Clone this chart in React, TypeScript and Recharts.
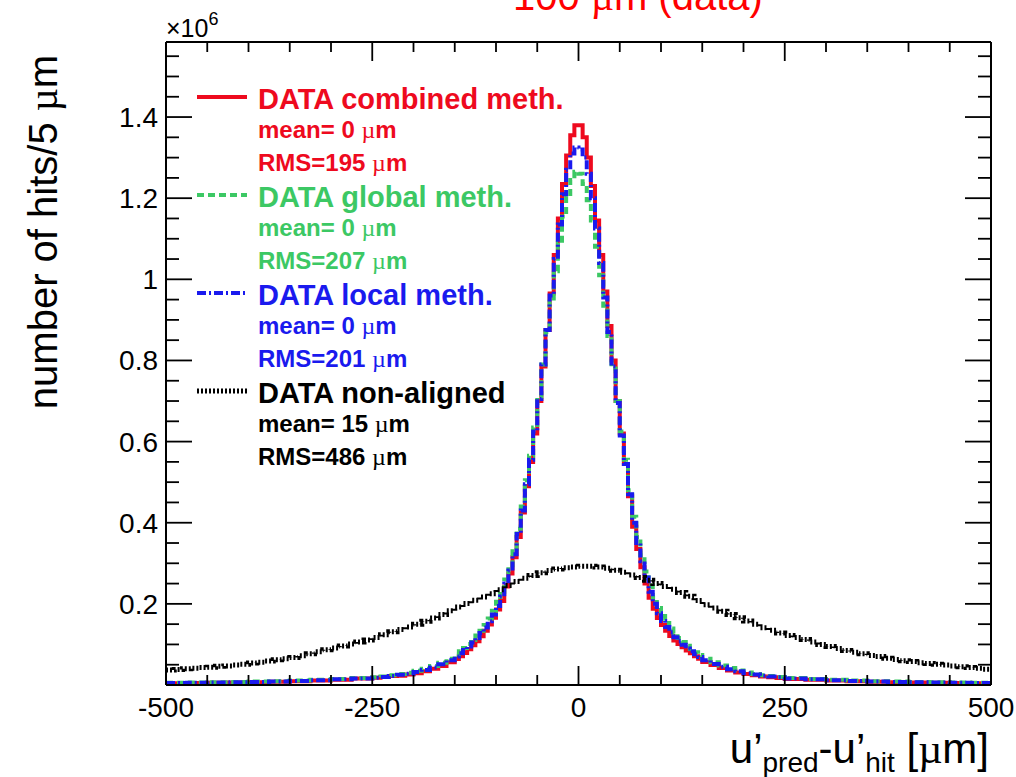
import { LineChart, Line, XAxis, YAxis } from "recharts";

const FONT = "'Liberation Sans', Arial, Helvetica, sans-serif";
const SERIF = "'Liberation Serif', 'DejaVu Serif', serif";
const RED = "#ee0a1e";
const GREEN = "#3cc864";
const BLUE = "#1a1aee";
const BLACK = "#000000";

// bin edges (µm) for the three aligned histograms; 5 µm bins in the core, wider in the tails
const binEdges = [
  -500, -475, -450, -425, -400, -375, -350, -325, -300, -275,
  -250, -240, -230, -220, -210, -200, -190, -180, -170, -160,
  -150, -145, -140, -135, -130, -125, -120, -115, -110, -105,
  -100, -95, -90, -85, -80, -75, -70, -65, -60, -55,
  -50, -45, -40, -35, -30, -25, -20, -15, -10, -5,
  0, 5, 10, 15, 20, 25, 30, 35, 40, 45,
  50, 55, 60, 65, 70, 75, 80, 85, 90, 95,
  100, 105, 110, 115, 120, 125, 130, 135, 140, 145,
  150, 160, 170, 180, 190, 200, 210, 220, 230, 240,
  250, 275, 300, 325, 350, 375, 400, 425, 450, 475,
  500,
];

// hits per bin, x10^6
const combinedCounts = [
  0.0045, 0.005, 0.0055, 0.006, 0.007, 0.008, 0.0095, 0.011, 0.013, 0.016,
  0.018, 0.02, 0.022, 0.023, 0.026, 0.029, 0.034, 0.04, 0.047, 0.056,
  0.064, 0.071, 0.079, 0.088, 0.098, 0.108, 0.12, 0.134, 0.149, 0.166,
  0.186, 0.207, 0.243, 0.275, 0.315, 0.365, 0.425, 0.49, 0.55, 0.62,
  0.7, 0.785, 0.875, 0.965, 1.06, 1.15, 1.235, 1.305, 1.355, 1.38,
  1.38, 1.35, 1.3, 1.23, 1.145, 1.06, 0.97, 0.885, 0.8, 0.7,
  0.62, 0.545, 0.465, 0.39, 0.335, 0.29, 0.25, 0.215, 0.188, 0.165,
  0.148, 0.134, 0.121, 0.11, 0.101, 0.093, 0.085, 0.078, 0.071, 0.065,
  0.057, 0.049, 0.042, 0.036, 0.031, 0.027, 0.024, 0.021, 0.019, 0.017,
  0.015, 0.013, 0.011, 0.0095, 0.008, 0.007, 0.006, 0.0055, 0.005, 0.0045,
];

const globalCounts = [
  0.0055, 0.006, 0.0065, 0.0075, 0.0085, 0.0095, 0.011, 0.013, 0.015, 0.017,
  0.019, 0.021, 0.024, 0.027, 0.03, 0.035, 0.04, 0.047, 0.055, 0.065,
  0.075, 0.083, 0.091, 0.101, 0.111, 0.122, 0.134, 0.148, 0.164, 0.183,
  0.205, 0.23, 0.26, 0.295, 0.335, 0.385, 0.44, 0.505, 0.565, 0.635,
  0.71, 0.79, 0.87, 0.945, 1.02, 1.09, 1.155, 1.205, 1.245, 1.265,
  1.26, 1.235, 1.195, 1.145, 1.08, 1.01, 0.935, 0.86, 0.78, 0.7,
  0.625, 0.555, 0.48, 0.415, 0.365, 0.32, 0.28, 0.245, 0.215, 0.19,
  0.17, 0.153, 0.139, 0.127, 0.116, 0.106, 0.097, 0.089, 0.081, 0.074,
  0.065, 0.056, 0.048, 0.042, 0.036, 0.031, 0.027, 0.024, 0.022, 0.02,
  0.017, 0.015, 0.013, 0.011, 0.0095, 0.0085, 0.0075, 0.0065, 0.006, 0.0055,
];

const localCounts = [
  0.005, 0.0055, 0.006, 0.0065, 0.0075, 0.0085, 0.01, 0.012, 0.014, 0.016,
  0.018, 0.02, 0.022, 0.025, 0.028, 0.032, 0.037, 0.043, 0.051, 0.061,
  0.07, 0.078, 0.086, 0.095, 0.105, 0.116, 0.128, 0.142, 0.157, 0.174,
  0.195, 0.218, 0.25, 0.282, 0.322, 0.372, 0.43, 0.495, 0.555, 0.625,
  0.705, 0.79, 0.875, 0.96, 1.05, 1.135, 1.21, 1.27, 1.31, 1.325,
  1.32, 1.3, 1.26, 1.2, 1.125, 1.04, 0.955, 0.87, 0.785, 0.695,
  0.615, 0.545, 0.47, 0.4, 0.35, 0.305, 0.265, 0.23, 0.2, 0.177,
  0.158, 0.143, 0.13, 0.118, 0.108, 0.099, 0.09, 0.083, 0.076, 0.069,
  0.061, 0.052, 0.045, 0.039, 0.034, 0.029, 0.026, 0.023, 0.021, 0.019,
  0.016, 0.014, 0.012, 0.01, 0.0085, 0.0075, 0.0065, 0.006, 0.0055, 0.005,
];

// non-aligned histogram, 10 µm bins
const nonAlignedEdges = [
  -500, -490, -480, -470, -460, -450, -440, -430, -420, -410,
  -400, -390, -380, -370, -360, -350, -340, -330, -320, -310,
  -300, -290, -280, -270, -260, -250, -240, -230, -220, -210,
  -200, -190, -180, -170, -160, -150, -140, -130, -120, -110,
  -100, -90, -80, -70, -60, -50, -40, -30, -20, -10,
  0, 10, 20, 30, 40, 50, 60, 70, 80, 90,
  100, 110, 120, 130, 140, 150, 160, 170, 180, 190,
  200, 210, 220, 230, 240, 250, 260, 270, 280, 290,
  300, 310, 320, 330, 340, 350, 360, 370, 380, 390,
  400, 410, 420, 430, 440, 450, 460, 470, 480, 490,
  500,
];

const nonAlignedCounts = [
  0.037, 0.038, 0.04, 0.041, 0.043, 0.044, 0.046, 0.047, 0.049, 0.051,
  0.054, 0.056, 0.059, 0.062, 0.065, 0.068, 0.072, 0.077, 0.082, 0.087,
  0.091, 0.096, 0.101, 0.106, 0.111, 0.117, 0.124, 0.131, 0.137, 0.143,
  0.15, 0.157, 0.165, 0.174, 0.183, 0.192, 0.201, 0.209, 0.217, 0.225,
  0.235, 0.245, 0.255, 0.263, 0.27, 0.277, 0.282, 0.286, 0.289, 0.291,
  0.293, 0.293, 0.291, 0.288, 0.283, 0.278, 0.271, 0.265, 0.258, 0.25,
  0.243, 0.236, 0.228, 0.219, 0.208, 0.198, 0.19, 0.182, 0.174, 0.166,
  0.158, 0.15, 0.141, 0.135, 0.128, 0.122, 0.117, 0.112, 0.106, 0.1,
  0.095, 0.09, 0.085, 0.081, 0.077, 0.073, 0.07, 0.066, 0.063, 0.06,
  0.058, 0.055, 0.053, 0.051, 0.049, 0.047, 0.045, 0.043, 0.041, 0.039,
];

const xTicks = [
  -500, -450, -400, -350, -300, -250, -200, -150, -100, -50,
  0, 50, 100, 150, 200, 250, 300, 350, 400, 450, 500,
];
const xLabelTicks = [-500, -250, 0, 250, 500];
const yTicks = [
  0, 0.05, 0.1, 0.15, 0.2, 0.25, 0.3, 0.35, 0.4, 0.45, 0.5, 0.55, 0.6, 0.65, 0.7, 0.75,
  0.8, 0.85, 0.9, 0.95, 1, 1.05, 1.1, 1.15, 1.2, 1.25, 1.3, 1.35, 1.4, 1.45, 1.5, 1.55,
];

const legendEntries = [
  { title: "DATA combined meth.", mean: "mean= 0 ", rms: "RMS=195 ", color: RED, dash: undefined as string | undefined },
  { title: "DATA global meth.", mean: "mean= 0 ", rms: "RMS=207 ", color: GREEN, dash: "7 4" },
  { title: "DATA local meth.", mean: "mean= 0 ", rms: "RMS=201 ", color: BLUE, dash: "9 3 2 3" },
  { title: "DATA non-aligned", mean: "mean= 15 ", rms: "RMS=486 ", color: BLACK, dash: "2 2" },
];

const peakRows = binEdges.map((x, i) => {
  const k = Math.min(i, combinedCounts.length - 1);
  return { x, combined: combinedCounts[k], global: globalCounts[k], local: localCounts[k] };
});
const nonAlignedRows = nonAlignedEdges.map((x, i) => ({
  x,
  nonAligned: nonAlignedCounts[Math.min(i, nonAlignedCounts.length - 1)],
}));

const isMajorX = (v: number) => xLabelTicks.includes(v);
const isMajorY = (v: number) => Math.round(v * 100) % 20 === 0;

function BottomTick(props: any) {
  const { x, y, payload } = props;
  const major = isMajorX(payload.value);
  return (
    <g>
      <line x1={x} x2={x} y1={y} y2={y - (major ? 19 : 10)} stroke="#000" strokeWidth={1.8} />
      {major && (
        <text x={x} y={y + 32} textAnchor="middle" fontSize={28} fontFamily={FONT} fill="#000">
          {payload.value}
        </text>
      )}
    </g>
  );
}

function TopTick(props: any) {
  const { x, y, payload } = props;
  const major = isMajorX(payload.value);
  return <line x1={x} x2={x} y1={y} y2={y + (major ? 19 : 10)} stroke="#000" strokeWidth={1.8} />;
}

function LeftTick(props: any) {
  const { x, y, payload } = props;
  const v = payload.value;
  const major = isMajorY(v);
  if (v === 0) return <g />;
  return (
    <g>
      <line x1={x} x2={x + (major ? 26 : 13)} y1={y} y2={y} stroke="#000" strokeWidth={1.8} />
      {major && (
        <text x={x - 8} y={y + 10} textAnchor="end" fontSize={28} fontFamily={FONT} fill="#000">
          {v === 1 ? "1" : v.toFixed(1)}
        </text>
      )}
    </g>
  );
}

function RightTick(props: any) {
  const { x, y, payload } = props;
  const v = payload.value;
  if (v === 0) return <g />;
  const major = isMajorY(v);
  return <line x1={x} x2={x - (major ? 26 : 13)} y1={y} y2={y} stroke="#000" strokeWidth={1.8} />;
}

const frame = { stroke: "#000", strokeWidth: 2 };

export default function App() {
  return (
    <div style={{ position: "absolute", left: 0, top: 0, width: 1016, height: 777, background: "#fff", overflow: "hidden" }}>
      <LineChart width={1016} height={777} data={peakRows} margin={{ top: 32, right: 15, bottom: 62, left: 86 }}>
        <XAxis xAxisId="bottom" dataKey="x" type="number" domain={[-500, 500]} ticks={xTicks} interval={0}
          allowDataOverflow height={30} tickSize={0} tickMargin={0} tickLine={false} axisLine={frame} tick={BottomTick} />
        <XAxis xAxisId="top" orientation="top" dataKey="x" type="number" domain={[-500, 500]} ticks={xTicks} interval={0}
          allowDataOverflow height={10} tickSize={0} tickMargin={0} tickLine={false} axisLine={frame} tick={TopTick} />
        <YAxis yAxisId="left" type="number" domain={[0, 1.585]} ticks={yTicks} interval={0} allowDataOverflow
          width={80} tickSize={0} tickMargin={0} tickLine={false} axisLine={frame} tick={LeftTick} />
        <YAxis yAxisId="right" orientation="right" type="number" domain={[0, 1.585]} ticks={yTicks} interval={0} allowDataOverflow
          width={10} tickSize={0} tickMargin={0} tickLine={false} axisLine={frame} tick={RightTick} />
        <Line xAxisId="bottom" yAxisId="left" type="stepAfter" dataKey="combined" stroke={RED} strokeWidth={4}
          dot={false} activeDot={false} isAnimationActive={false} />
        <Line xAxisId="bottom" yAxisId="left" type="stepAfter" dataKey="global" stroke={GREEN} strokeWidth={4}
          strokeDasharray="7 4" dot={false} activeDot={false} isAnimationActive={false} />
        <Line xAxisId="bottom" yAxisId="left" type="stepAfter" dataKey="local" stroke={BLUE} strokeWidth={4}
          strokeDasharray="9 3 2 3" dot={false} activeDot={false} isAnimationActive={false} />
        <Line xAxisId="bottom" yAxisId="left" type="stepAfter" data={nonAlignedRows} dataKey="nonAligned" stroke={BLACK}
          strokeWidth={5} strokeDasharray="2 2" dot={false} activeDot={false} isAnimationActive={false} />
      </LineChart>

      <svg width={1016} height={777} style={{ position: "absolute", left: 0, top: 0, pointerEvents: "none" }}>
        <text x={513} y={10} fontSize={40} fontFamily={FONT} fill="#ff0000">
          100 <tspan fontFamily={SERIF}>µ</tspan>m (data)
        </text>
        <text x={166} y={37} fontSize={25} fontFamily={FONT} fill="#000">
          ×10<tspan fontSize={18} dy={-12}>6</tspan>
        </text>
        <text transform="translate(57,232) rotate(-90)" textAnchor="middle" fontSize={40} fontFamily={FONT} fill="#000">
          number of hits/5 <tspan fontFamily={SERIF}>µ</tspan>m
        </text>
        <text x={989} y={763} textAnchor="end" fontSize={42} fontFamily={FONT} fill="#000">
          u’<tspan fontSize={28} dy={9}>pred</tspan>
          <tspan dy={-9}>-u’</tspan>
          <tspan fontSize={28} dy={9}>hit</tspan>
          <tspan dy={-9}> [</tspan>
          <tspan fontFamily={SERIF}>µ</tspan>m]
        </text>
        {legendEntries.map((e, i) => {
          const base = 109 + i * 98;
          return (
            <g key={e.title}>
              <line x1={197} x2={247} y1={base - 12} y2={base - 12} stroke={e.color}
                strokeWidth={i === 3 ? 5 : 4} strokeDasharray={e.dash} />
              <text x={258} y={base} fontSize={29} fontWeight="bold" fontFamily={FONT} fill={e.color}>
                {e.title}
              </text>
              <text x={258} y={base + 29} fontSize={24} fontWeight="bold" fontFamily={FONT} fill={e.color}>
                {e.mean}
                <tspan fontFamily={SERIF} fontWeight="normal">µ</tspan>m
              </text>
              <text x={258} y={base + 62} fontSize={24} fontWeight="bold" fontFamily={FONT} fill={e.color}>
                {e.rms}
                <tspan fontFamily={SERIF} fontWeight="normal">µ</tspan>m
              </text>
            </g>
          );
        })}
      </svg>
    </div>
  );
}
